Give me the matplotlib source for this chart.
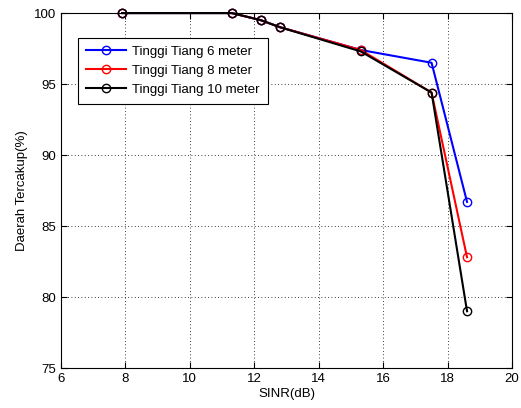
import matplotlib
matplotlib.use("Agg")
import matplotlib.pyplot as plt

plt.rcParams['font.family'] = ['Liberation Sans', 'DejaVu Sans']

sinr = [7.9, 11.3, 12.2, 12.8, 15.3, 17.5, 18.6]
tiang6 = [100, 100, 99.5, 99.0, 97.4, 96.5, 86.7]
tiang8 = [100, 100, 99.5, 99.0, 97.4, 94.4, 82.8]
tiang10 = [100, 100, 99.5, 99.0, 97.3, 94.4, 79.0]
labels = ['Tinggi Tiang 6 meter', 'Tinggi Tiang 8 meter', 'Tinggi Tiang 10 meter']

fig = plt.figure(figsize=(5.21, 4.08), dpi=100)
ax = fig.add_axes([0.117, 0.098, 0.866, 0.870])

for y, c, l in zip([tiang6, tiang8, tiang10], ['#0000ff', '#ff0000', '#000000'], labels):
    ax.plot(sinr, y, color=c, marker='o', markerfacecolor='none', markeredgecolor=c,
            markersize=6, linewidth=1.5, label=l, clip_on=False)

ax.set_xlim(6, 20)
ax.set_ylim(75, 100)
ax.set_xticks(range(6, 21, 2))
ax.set_yticks(range(75, 101, 5))
ax.grid(True, linestyle=(0, (1, 3)), color='black', linewidth=0.6)
ax.tick_params(direction='in', labelsize=9.5, length=4, top=True, right=True)
for s in ax.spines.values():
    s.set_linewidth(0.8)
ax.set_xlabel('SINR(dB)', fontsize=9.5, labelpad=2)
ax.set_ylabel('Daerah Tercakup(%)', fontsize=9.5, labelpad=4)

leg = ax.legend(loc='upper left', bbox_to_anchor=(0.038, 0.93), borderaxespad=0,
                fontsize=9.5, fancybox=False, framealpha=1, edgecolor='black',
                borderpad=0.6, handlelength=3.0, labelspacing=0.5, handletextpad=0.5)
leg.get_frame().set_linewidth(0.8)

fig.savefig('out.png', dpi=100)
